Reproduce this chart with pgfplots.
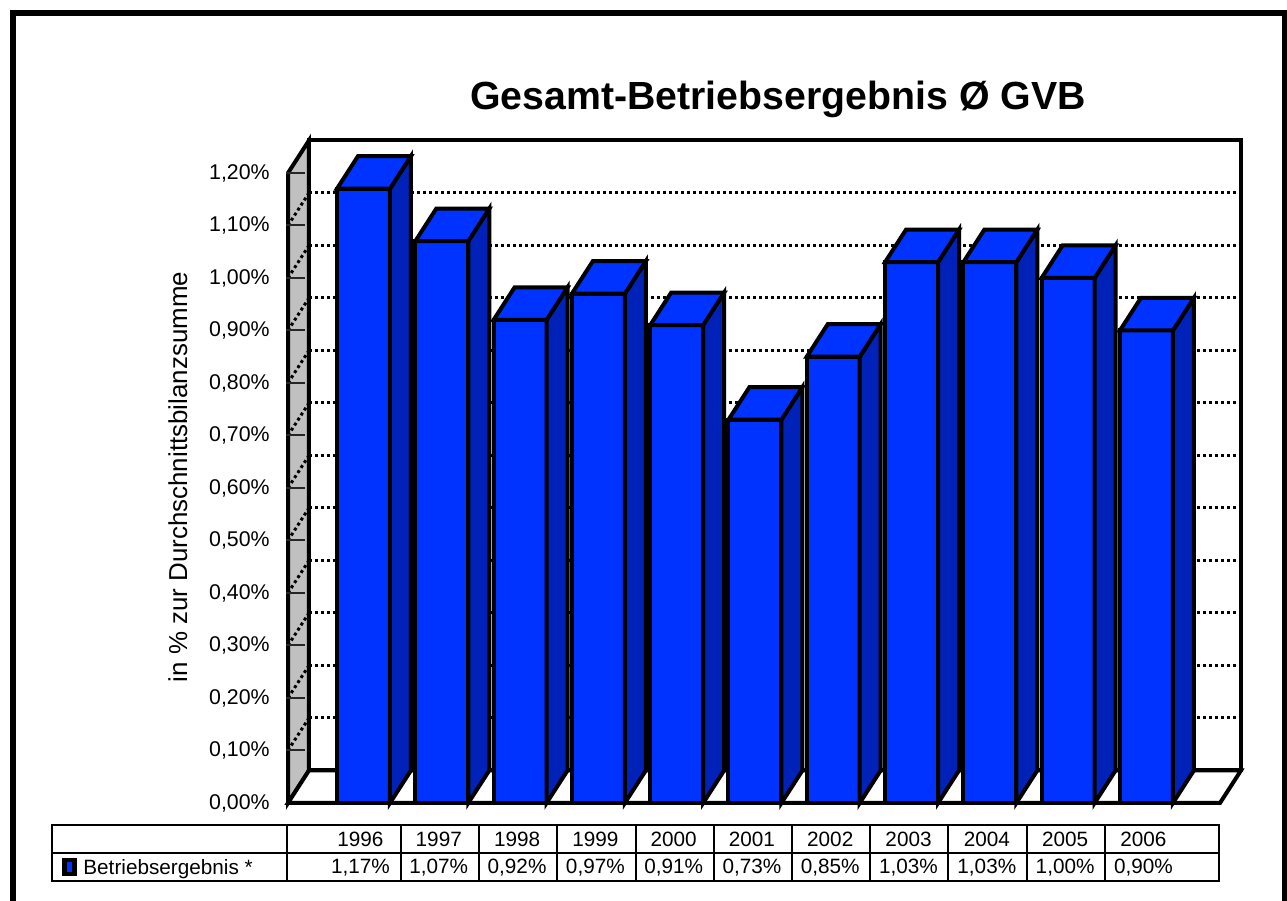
\documentclass[border=0pt]{standalone}
\usepackage{fontspec}
\setmainfont{Liberation Sans}
\usepackage{pgfplots}
\usepackage{pgfplotstable}
\pgfplotsset{compat=1.18}
\definecolor{barfront}{RGB}{0,51,255}
\definecolor{barside}{RGB}{0,34,184}
\definecolor{wallgray}{RGB}{192,192,192}
\pgfplotstableread{
x y year
0 1.17 1996
1 1.07 1997
2 0.92 1998
3 0.97 1999
4 0.91 2000
5 0.73 2001
6 0.85 2002
7 1.03 2003
8 1.03 2004
9 1.00 2005
10 0.90 2006
}\bardata
\newcommand\tablefont{\fontsize{10.4}{12}\selectfont}
\begin{document}
\begin{tikzpicture}
% outer frame
\draw[line width=3bp] (6.5bp,-10bp) -- (6.5bp,444bp) -- (642.5bp,444bp) -- (642.5bp,-10bp);
% title
\node[anchor=base, inner sep=0pt, font=\fontsize{19.7}{24}\selectfont\bfseries] at (389bp,395.5bp) {Gesamt-Betriebsergebnis Ø GVB};
% y label
\node[anchor=base, rotate=90, inner sep=0pt, font=\fontsize{13}{15}\selectfont] at (93.5bp,212bp) {in \% zur Durchschnittsbilanzsumme};
% data table
\draw[line width=1bp] (26bp,10bp) rectangle (609.5bp,38bp);
\draw[line width=1bp] (26bp,24bp) -- (609.5bp,24bp);
\foreach \s in {287,401,479.2,557.4,635.6,713.8,792,870.2,948.4,1026.6,1104.8}{
  \draw[line width=1bp] (\s*0.5bp,10bp) -- (\s*0.5bp,38bp);
}
\fill[black] (31bp,12.5bp) rectangle (38.5bp,21.5bp);
\fill[barfront] (33.5bp,14.5bp) rectangle (36bp,19.5bp);
\node[anchor=base west, inner sep=0pt, font=\tablefont] at (41.5bp,13.5bp) {Betriebsergebnis *};
\begin{axis}[
  at={(144bp,49bp)}, anchor=south west,
  scale only axis, width=466bp, height=315bp,
  xmin=-0.964, xmax=10.94, ymin=0, ymax=1.2,
  clip=false,
  axis x line=none, axis y line*=left,
  y axis line style={draw=none},
  xtick=\empty,
  ytick={0,0.1,0.2,0.3,0.4,0.5,0.6,0.7,0.8,0.9,1.0,1.1,1.2},
  major tick length=0pt,
  /pgf/number format/assume math mode=true,
  yticklabel={\pgfmathprintnumber[fixed,fixed zerofill,precision=2,use comma]{\tick}\%},
  yticklabel style={font=\fontsize{10.7}{12}\selectfont, inner sep=0pt, xshift=-9bp},
]
% back wall
\addplot[fill=white, draw=black, line width=2bp] coordinates {(-0.696,0.062) (-0.696,1.262) (11.208,1.262) (11.208,0.062)} -- cycle;
% left wall
\addplot[fill=wallgray, draw=black, line width=2bp] coordinates {(-0.964,0) (-0.964,1.2) (-0.696,1.262) (-0.696,0.062)} -- cycle;
% floor
\addplot[fill=white, draw=black, line width=2bp] coordinates {(-0.964,0) (10.94,0) (11.208,0.062) (-0.696,0.062)} -- cycle;
% grid lines and ticks
\pgfplotsinvokeforeach{0.1,0.2,0.3,0.4,0.5,0.6,0.7,0.8,0.9,1.0,1.1}{
  \pgfmathsetmacro\gy{#1+0.062}
  \edef\tmp{\noexpand\addplot[black, line width=1.5bp, dash pattern=on 1.5bp off 1.5bp] coordinates {(-0.696,\gy) (11.208,\gy)};}\tmp
  \edef\tmp{\noexpand\addplot[black, line width=1.5bp, dash pattern=on 1.5bp off 1.5bp] coordinates {(-0.964,#1) (-0.696,\gy)};}\tmp
}
\pgfplotsinvokeforeach{0.1,0.2,0.3,0.4,0.5,0.6,0.7,0.8,0.9,1.0,1.1,1.2}{
  \addplot[black!85, line width=1bp] coordinates {(-0.99,#1) (-0.75,#1)};
}
% bar fronts
\addplot[ybar, bar width=0.677, bar shift=0, fill=barfront, draw=black, line width=2bp] table[x=x,y=y]{\bardata};
% bar sides and tops
\pgfplotsinvokeforeach{0,...,10}{
  \pgfplotstablegetelem{#1}{y}\of\bardata
  \let\barv\pgfplotsretval
  \pgfmathsetmacro\xl{#1-0.3385}
  \pgfmathsetmacro\xr{#1+0.3385}
  \pgfmathsetmacro\xlb{#1-0.3385+0.268}
  \pgfmathsetmacro\xrb{#1+0.3385+0.268}
  \pgfmathsetmacro\yt{\barv+0.062}
  \edef\tmp{\noexpand\addplot[fill=barside, draw=black, line width=2bp] coordinates {(\xr,0) (\xr,\barv) (\xrb,\yt) (\xrb,0.062)} -- cycle;}\tmp
  \edef\tmp{\noexpand\addplot[fill=barfront, draw=black, line width=2bp] coordinates {(\xl,\barv) (\xr,\barv) (\xrb,\yt) (\xlb,\yt)} -- cycle;}\tmp
}
% data table rows
\addplot[draw=none, nodes near coords, point meta=explicit symbolic,
  every node near coord/.append style={anchor=base, inner sep=0pt, font=\tablefont, xshift=-1.5bp}]
  table[x=x, y expr=-0.0825, meta=year]{\bardata};
\addplot[draw=none, point meta=explicit,
  nodes near coords={\pgfmathprintnumber[fixed,fixed zerofill,precision=2,use comma]{\pgfplotspointmeta}\%},
  every node near coord/.append style={anchor=base, inner sep=0pt, font=\tablefont, xshift=-1.5bp}]
  table[x=x, y expr=-0.1352, meta=y]{\bardata};
\end{axis}
\pgfresetboundingbox
\useasboundingbox (0,0) rectangle (643.5bp,450.5bp);
\end{tikzpicture}
\end{document}
